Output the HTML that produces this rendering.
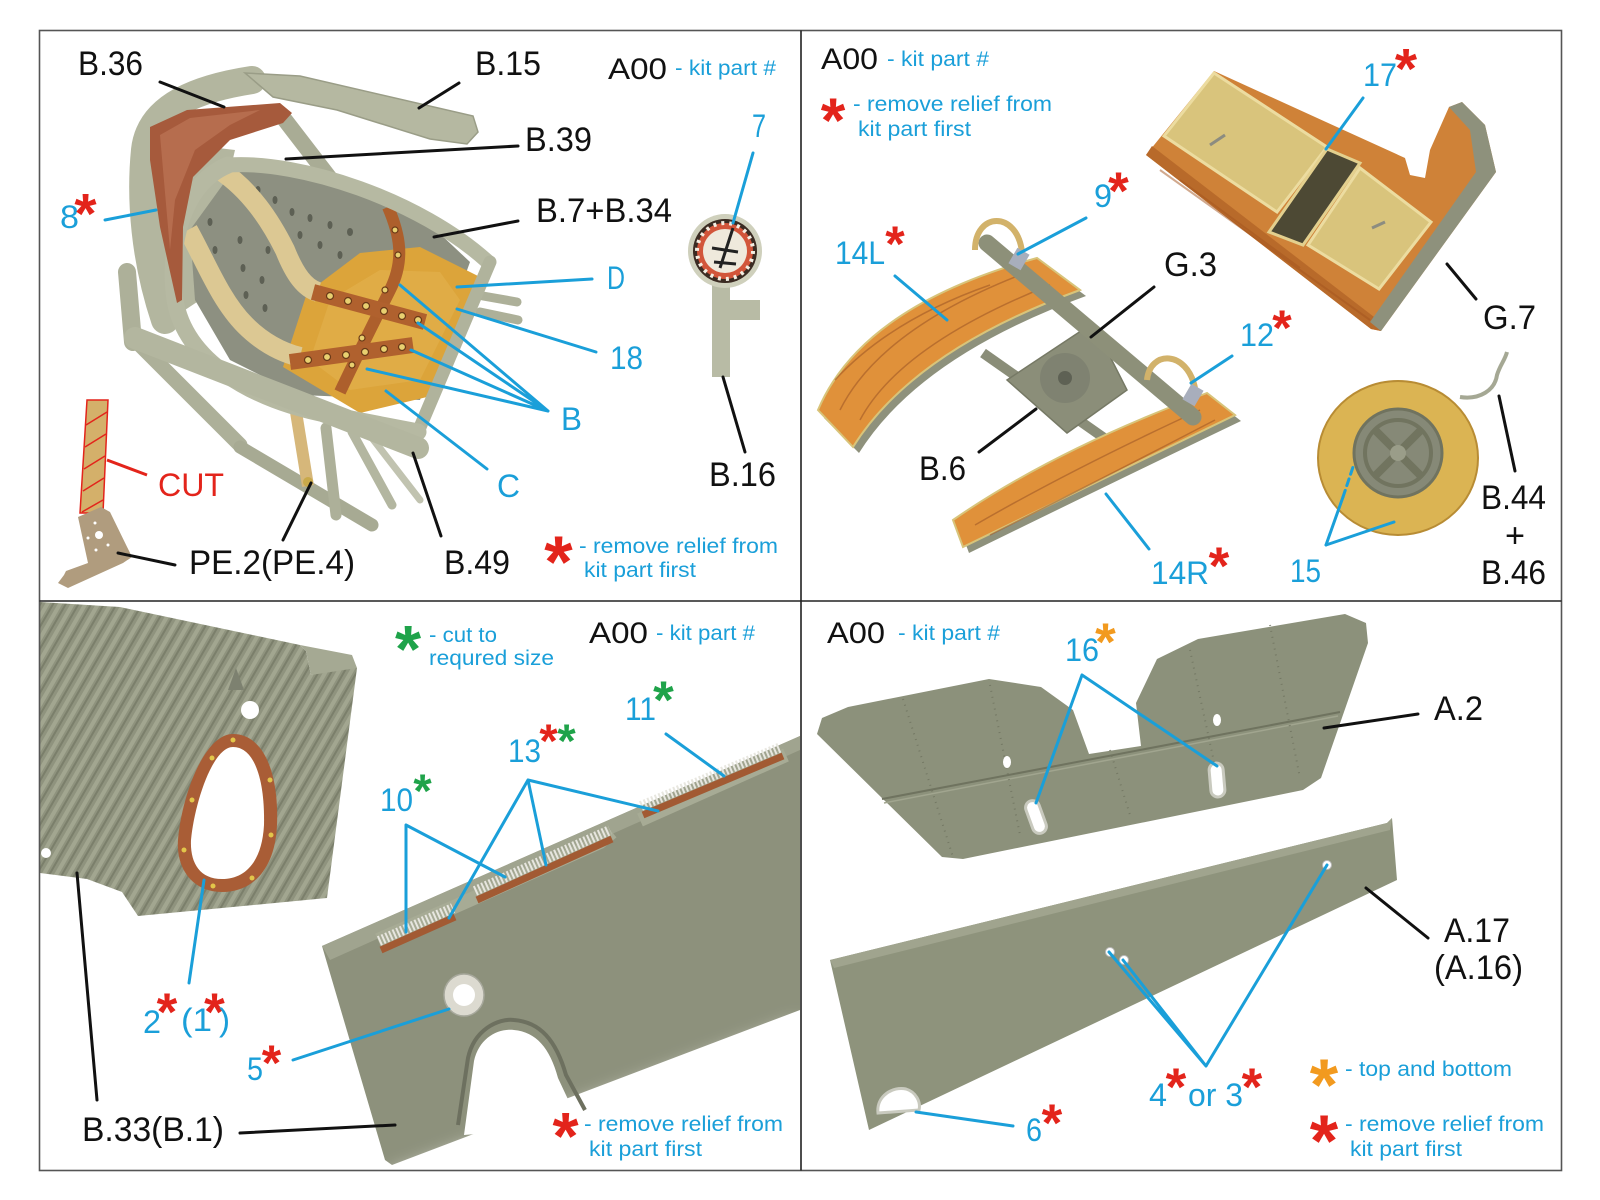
<!DOCTYPE html>
<html><head><meta charset="utf-8"><style>
html,body{margin:0;padding:0;background:#fff;}
svg{display:block;}
text{font-family:"Liberation Sans",Arial,sans-serif;}
.k{fill:#111;font-size:34px;}
.b{fill:#1a9fd9;font-size:32px;}
.s{fill:#1a9fd9;font-size:21px;}
.a{font-weight:bold;text-anchor:middle;}
.r{fill:#e3241b;}
.g{fill:#1fa34a;}
.o{fill:#f29a1f;}
.lb{stroke:#1a9fd9;stroke-width:3;fill:none;stroke-linecap:round;}
.lk{stroke:#111;stroke-width:3;fill:none;stroke-linecap:round;}
</style></head><body>
<svg width="1600" height="1200" viewBox="0 0 1600 1200" xmlns="http://www.w3.org/2000/svg">
<defs>
 <pattern id="stripes" width="11" height="11" patternUnits="userSpaceOnUse" patternTransform="rotate(30)">
  <rect width="11" height="11" fill="#8f937e"/>
  <rect width="4" height="11" fill="#a2a690"/>
  <rect x="6" width="2" height="11" fill="#7b7f6b"/>
 </pattern>
 <filter id="bl" x="-20%" y="-20%" width="140%" height="140%"><feGaussianBlur stdDeviation="9"/></filter>
</defs>
<rect width="1600" height="1200" fill="#fff"/>

<!-- ================= TOP LEFT : SEAT ================= -->
<g>
 <g stroke="#adb099" stroke-linecap="round" fill="none">
  <path d="M127,272 L133,342" stroke-width="18"/>
  <path d="M140,345 L240,445" stroke-width="15"/>
  <path d="M240,447 L372,525" stroke-width="13" stroke="#a7aa93"/>
  <path d="M326,428 L336,515" stroke-width="11"/>
  <path d="M352,432 L392,505" stroke-width="9" stroke="#b3b6a0"/>
  <path d="M372,438 L420,500" stroke-width="7" stroke="#c1c3b0"/>
  <path d="M483,296 L517,302" stroke-width="9"/>
  <path d="M480,312 L518,320" stroke-width="9"/>
  <path d="M285,120 L345,198" stroke-width="16" stroke="#a9ac95"/>
 </g>
 <path d="M296,412 L308,486" stroke="#d6b77a" stroke-width="12"/>
 <circle cx="308" cy="482" r="5" fill="#c9a94a"/>
 <polygon points="150,140 235,150 200,300 170,320 150,250" fill="#b3b69f"/>
 <path d="M252,80 C200,88 150,105 145,150 C140,200 145,260 165,320" stroke="#b3b69f" stroke-width="28" fill="none" stroke-linecap="round"/>
 <polygon points="245,73 300,76 473,116 478,132 467,144 430,139 337,110 273,97" fill="#b5b8a1" stroke="#9a9d87" stroke-width="1.5"/>
 <polygon points="232,172 300,170 370,190 420,215 470,262 420,400 300,395 230,360 195,300 190,230" fill="#8d9081"/>
 <g fill="#5d6054">
  <ellipse cx="258" cy="190" rx="2.5" ry="4"/><ellipse cx="275" cy="200" rx="2.5" ry="4"/><ellipse cx="292" cy="212" rx="2.5" ry="4"/>
  <ellipse cx="310" cy="218" rx="2.5" ry="4"/><ellipse cx="330" cy="225" rx="2.5" ry="4"/><ellipse cx="350" cy="232" rx="3" ry="4"/>
  <ellipse cx="210" cy="222" rx="2.5" ry="4"/><ellipse cx="215" cy="250" rx="2.5" ry="4"/><ellipse cx="220" cy="280" rx="2.5" ry="4"/>
  <ellipse cx="240" cy="240" rx="2.5" ry="4"/><ellipse cx="243" cy="268" rx="2.5" ry="4"/><ellipse cx="246" cy="295" rx="2.5" ry="4"/>
  <ellipse cx="262" cy="280" rx="2.5" ry="4"/><ellipse cx="265" cy="308" rx="2.5" ry="4"/><ellipse cx="268" cy="250" rx="2.5" ry="4"/>
  <ellipse cx="320" cy="245" rx="2.5" ry="4"/><ellipse cx="340" cy="255" rx="2.5" ry="4"/><ellipse cx="300" cy="235" rx="2.5" ry="4"/>
 </g>
 <polygon points="307,293 360,253 420,247 480,277 427,397 360,413 283,367" fill="#dca43a"/>
 <polygon points="330,300 380,270 440,272 460,300 420,380 350,390 310,360" fill="#e3b24e" opacity="0.6"/>
 <path d="M220,170 C250,190 270,220 285,250 C295,275 305,288 318,292" stroke="#dcc893" stroke-width="20" fill="none"/>
 <path d="M188,230 C205,260 220,300 245,325 C262,342 280,352 300,357" stroke="#dcc893" stroke-width="20" fill="none"/>
 <path d="M388,207 C400,235 405,260 390,290 C375,320 355,360 340,392" stroke="#ad5f2c" stroke-width="12" fill="none"/>
 <path d="M313,292 L425,322" stroke="#b0612e" stroke-width="16"/>
 <path d="M290,362 L413,345" stroke="#b0612e" stroke-width="16"/>
 <g fill="#e8d070" stroke="#6a3a18" stroke-width="1.2">
  <circle cx="330" cy="296" r="3.5"/><circle cx="348" cy="301" r="3.5"/><circle cx="366" cy="306" r="3.5"/><circle cx="384" cy="311" r="3.5"/><circle cx="402" cy="316" r="3.5"/><circle cx="418" cy="320" r="3.5"/>
  <circle cx="308" cy="360" r="3.5"/><circle cx="327" cy="357" r="3.5"/><circle cx="346" cy="355" r="3.5"/><circle cx="365" cy="352" r="3.5"/><circle cx="384" cy="349" r="3.5"/><circle cx="402" cy="347" r="3.5"/>
  <circle cx="395" cy="230" r="3"/><circle cx="398" cy="255" r="3"/><circle cx="385" cy="290" r="3"/><circle cx="362" cy="338" r="3"/><circle cx="352" cy="365" r="3"/>
 </g>
 <path d="M228,165 C300,160 420,200 488,262" stroke="#b6b9a2" stroke-width="15" fill="none" stroke-linecap="round"/>
 <path d="M490,262 L418,432" stroke="#b0b39c" stroke-width="13" fill="none" stroke-linecap="round"/>
 <path d="M228,165 C180,185 168,250 175,300 C185,360 250,400 330,415 L418,432" stroke="#b6b9a2" stroke-width="17" fill="none" stroke-linecap="round"/>
 <path d="M135,338 L418,448" stroke="#b3b69f" stroke-width="22" stroke-linecap="round"/>
 <path d="M150,127 L187,110 L280,103 L292,113 L283,123 L230,140 L193,177 L183,227 L182,300 L177,303 L160,227 L150,160 Z" fill="#a65a3c"/>
 <path d="M160,135 L190,118 L260,110 L230,125 L195,150 L175,200 L170,250 Z" fill="#bd7556" opacity="0.7"/>
</g>

<!-- gauge -->
<g>
 <rect x="712" y="285" width="18" height="92" fill="#b8bba5"/>
 <rect x="727" y="300" width="33" height="20" fill="#b8bba5"/>
 <circle cx="725" cy="251" r="37" fill="#cfd0bc"/>
 <circle cx="725" cy="251" r="32" fill="#3b2b22"/>
 <circle cx="725" cy="251" r="28" fill="#d2553a"/>
 <circle cx="725" cy="251" r="28" fill="none" stroke="#f3eee2" stroke-width="4" stroke-dasharray="3 5"/>
 <circle cx="725" cy="251" r="22" fill="#efe9dc"/>
 <path d="M733,228 L720,268 M712,248 L738,252 M714,262 L736,264" stroke="#222" stroke-width="3"/>
</g>

<!-- CUT strip and bracket -->
<polygon points="87,400 108,400 103,513 80,513" fill="#d4b06a" stroke="#e3241b" stroke-width="1.5"/>
<g stroke="#e3241b" stroke-width="1.5">
 <path d="M86,425 L107,412"/><path d="M85,447 L106,434"/><path d="M84,469 L105,456"/><path d="M83,491 L104,478"/><path d="M82,512 L103,500"/>
</g>
<polygon points="78,517 101,507 110,512 132,557 123,563 68,588 58,583 64,575 66,571 88,563" fill="#b09c7e"/>
<g fill="#fff"><circle cx="99" cy="535" r="4"/><circle cx="95" cy="523" r="1.5"/><circle cx="88" cy="538" r="1.5"/><circle cx="108" cy="545" r="1.5"/><circle cx="96" cy="550" r="1.5"/></g>

<!-- ================= TOP RIGHT ================= -->
<polygon points="1214,71 1405,158 1410,175 1425,178 1430,150 1449,107 1462,102 1485,125 1496,172 1381,331 1371,329 1146,155" fill="#cf8238"/>
<polygon points="1146,155 1371,329 1381,331 1378,320 1152,146" fill="#b86a2a"/>
<polygon points="1449,107 1462,102 1485,125 1496,172 1381,331 1370,322 1476,172 1470,130" fill="#8e917c"/>
<polygon points="1214,73 1327,147 1277,212 1164,136" fill="#d9c47c" stroke="#ecdca0" stroke-width="3"/>
<polygon points="1327,149 1360,163 1303,245 1269,232" fill="#4d4934" stroke="#e3d08e" stroke-width="3"/>
<polygon points="1360,168 1431,222 1379,289 1308,245" fill="#d9c47c" stroke="#ecdca0" stroke-width="3"/>
<path d="M1210,145 L1225,135 M1372,228 L1385,222" stroke="#8c8c80" stroke-width="3"/>
<path d="M1160,170 L1370,320 M1180,180 L1300,268" stroke="#a5561f" stroke-width="2" opacity="0.5"/>

<path d="M824,418 Q868,312 1043,264 L1086,296 Q919,357 859,453 Z" fill="#8e917c"/>
<path d="M818,410 Q862,306 1037,258 L1080,290 Q913,351 853,447 Z" fill="#e0913a" stroke="#d8c47a" stroke-width="2"/>
<path d="M840,410 Q880,330 1020,275 M860,420 Q900,345 1050,285 M835,380 Q890,320 990,285" stroke="#9a5424" stroke-width="1.5" fill="none" opacity="0.55"/>
<path d="M983,353 L1107,440" stroke="#8a8d78" stroke-width="10"/>
<path d="M959,526 Q1060,456 1213,399 L1241,421 Q1116,481 969,553 Z" fill="#8e917c"/>
<path d="M953,520 Q1054,450 1207,393 L1235,415 Q1110,475 963,547 Z" fill="#e0913a" stroke="#d8c47a" stroke-width="2"/>
<path d="M975,525 Q1070,470 1200,410 M990,535 Q1090,485 1215,420" stroke="#9a5424" stroke-width="1.5" fill="none" opacity="0.55"/>
<polygon points="1007,380 1093,323 1127,390 1067,433" fill="#8b8e79" stroke="#767965" stroke-width="1.5"/>
<circle cx="1065" cy="378" r="25" fill="#7f8271"/>
<circle cx="1065" cy="378" r="7" fill="#5e6154"/>
<path d="M987,243 L1193,417" stroke="#8d9079" stroke-width="17" stroke-linecap="round"/>
<path d="M975,250 C975,212 1017,210 1022,252" stroke="#d2b26a" stroke-width="6" fill="none"/>
<path d="M1147,380 C1150,350 1187,350 1195,388" stroke="#d2b26a" stroke-width="6" fill="none"/>
<rect x="1012" y="250" width="14" height="18" fill="#a8aebc" transform="rotate(30 1019 259)"/>
<rect x="1186" y="386" width="14" height="18" fill="#a8aebc" transform="rotate(30 1193 395)"/>

<path d="M1460,397 C1480,400 1495,390 1497,375 C1500,365 1505,360 1507,352" stroke="#a5a894" stroke-width="4" fill="none"/>
<ellipse cx="1398" cy="458" rx="80" ry="77" fill="#dbb453"/>
<ellipse cx="1398" cy="458" rx="80" ry="77" fill="none" stroke="#b88c34" stroke-width="2"/>
<circle cx="1398" cy="453" r="44" fill="#868977" stroke="#70735f" stroke-width="3"/>
<circle cx="1398" cy="453" r="33" fill="none" stroke="#71745f" stroke-width="4"/>
<path d="M1375,430 L1421,476 M1421,430 L1375,476" stroke="#71745f" stroke-width="8"/>
<circle cx="1398" cy="453" r="8" fill="#9a9d89"/>

<!-- ================= BOTTOM LEFT ================= -->
<polygon points="40,602 120,607 300,645 306,651 311,675 352,665 357,668 327,898 138,916 122,892 87,879 40,873" fill="url(#stripes)"/>
<polygon points="300,645 352,655 357,668 311,675 306,651" fill="#a5a993"/>
<path d="M233,734 C262,734 279,770 277,825 C275,870 252,892 222,892 C192,892 176,868 178,840 C181,800 203,734 233,734 Z" fill="#a95d36"/>
<path d="M233,747 C253,747 265,776 264,825 C262,862 245,879 222,879 C199,879 190,862 191,840 C194,806 212,747 233,747 Z" fill="#fff"/>
<g fill="#e2c64a"><circle cx="233" cy="740" r="2.5"/><circle cx="270" cy="780" r="2.5"/><circle cx="271" cy="835" r="2.5"/><circle cx="252" cy="878" r="2.5"/><circle cx="213" cy="886" r="2.5"/><circle cx="184" cy="850" r="2.5"/><circle cx="192" cy="800" r="2.5"/><circle cx="212" cy="758" r="2.5"/></g>
<polygon points="228,690 236,668 244,690" fill="#7d8170"/>
<circle cx="250" cy="710" r="9" fill="#fff"/>
<circle cx="46" cy="853" r="5" fill="#fff"/>

<polygon points="322,946 800,736 800,1010 392,1165 385,1160" fill="#8d917c"/>
<polygon points="322,946 800,736 800,750 330,960" fill="#a0a48f"/>
<polygon points="392,1175 800,1022 800,1200 380,1200" fill="#fff" filter="url(#bl)"/>
<path d="M458,1125 L468,1058 C474,1030 498,1018 514,1020 C540,1022 556,1040 566,1075 L585,1110" stroke="#6d705f" stroke-width="4" fill="none"/>
<path d="M464,1135 L474,1061 C479,1038 498,1028 514,1030 C536,1032 550,1048 558,1078 L580,1125 Z" fill="#fff"/>
<ellipse cx="464" cy="995" rx="20" ry="21" fill="#dcdad0" stroke="#a7a89c" stroke-width="1.5"/>
<circle cx="464" cy="995" r="11" fill="#fff"/>
<g>
 <path d="M378,940 L456,906 L600,842 L612,832 M640,820 L786,755" stroke="#a7ab95" stroke-width="14"/>
 <path d="M381,950 L455,917" stroke="#a25a33" stroke-width="7"/>
 <path d="M379,941 L453,908" stroke="#e7e6df" stroke-width="10" stroke-dasharray="2 2"/>
 <path d="M477,900 L612,839" stroke="#a25a33" stroke-width="7"/>
 <path d="M475,891 L610,830" stroke="#e7e6df" stroke-width="10" stroke-dasharray="2 2"/>
 <path d="M643,815 L783,756" stroke="#a25a33" stroke-width="7"/>
 <path d="M641,806 L781,747" stroke="#e7e6df" stroke-width="10" stroke-dasharray="2 2"/>
</g>

<!-- ================= BOTTOM RIGHT ================= -->
<polygon points="817,734 822,718 848,707 989,679 1041,687 1073,710 1089,754 1141,746 1136,703 1157,659 1198,639 1345,614 1366,623 1368,643 1321,778 1303,790 963,859 942,857 885,801" fill="#8c917b"/>
<path d="M882,799 L1340,712" stroke="#6f735f" stroke-width="2"/>
<path d="M884,803 L1338,716" stroke="#a1a58f" stroke-width="1.5"/>
<g stroke="#6f735f" stroke-width="2" stroke-dasharray="1 5" opacity="0.8">
 <path d="M903,699 L953,857"/><path d="M990,685 L1020,835"/><path d="M1110,750 L1130,815"/><path d="M1190,650 L1220,790"/><path d="M1270,625 L1300,778"/>
</g>
<ellipse cx="1007" cy="762" rx="4" ry="6" fill="#fff"/>
<ellipse cx="1217" cy="720" rx="4" ry="6" fill="#fff"/>
<rect x="1029" y="800" width="14" height="34" rx="7" fill="#fff" stroke="#c9cabf" stroke-width="3" transform="rotate(-20 1036 817)"/>
<rect x="1210" y="763" width="14" height="34" rx="7" fill="#fff" stroke="#c9cabf" stroke-width="3" transform="rotate(-5 1217 780)"/>
<polygon points="830,960 1387,823 1392,818 1397,880 869,1130" fill="#8e937c"/>
<polygon points="830,960 1387,823 1392,818 1390,830 834,968" fill="#a0a48e"/>
<circle cx="1110" cy="952" r="4.5" fill="#fff" stroke="#bbb" stroke-width="1"/>
<circle cx="1124" cy="960" r="4.5" fill="#fff" stroke="#bbb" stroke-width="1"/>
<circle cx="1327" cy="865" r="4.5" fill="#fff" stroke="#bbb" stroke-width="1"/>
<path d="M878,1113 C876,1096 893,1086 906,1089 C916,1092 921,1102 919,1110 Z" fill="#fff" stroke="#c9cabf" stroke-width="3"/>

<!-- ================= LEADER LINES ================= -->
<g class="lk">
 <path d="M160,82 L224,107"/><path d="M459,83 L419,108"/><path d="M518,146 L286,159"/><path d="M518,221 L434,237"/>
 <path d="M441,536 L413,453"/><path d="M283,540 L311,483"/><path d="M175,565 L118,553"/><path d="M745,452 L723,377"/>
 <path d="M1154,287 L1091,337"/><path d="M979,452 L1036,409"/><path d="M1476,299 L1447,264"/><path d="M1515,471 L1499,396"/>
 <path d="M97,1100 L77,873"/><path d="M240,1133 L395,1125"/>
 <path d="M1418,714 L1324,728"/><path d="M1428,938 L1366,888"/>
</g>
<path d="M147,475 L107,460" stroke="#e3241b" stroke-width="3"/>
<g class="lb">
 <path d="M105,220 L156,210"/><path d="M753,153 L733,223"/><path d="M592,279 L457,287"/><path d="M596,352 L457,309"/>
 <path d="M548,411 L400,285 M548,411 L418,323 M548,411 L411,350 M548,411 L367,369"/>
 <path d="M487,469 L386,391"/>
 <path d="M1363,98 L1326,149"/><path d="M1086,218 L1018,254"/><path d="M895,276 L947,320"/><path d="M1232,356 L1191,383"/>
 <path d="M1149,549 L1106,494"/><path d="M1326,545 L1343,497"/><path d="M1343,497 L1353,467" stroke-dasharray="7 5"/><path d="M1326,545 L1394,522"/>
 <path d="M189,983 L204,880"/><path d="M293,1060 L449,1009"/>
 <path d="M406,825 L406,932 M406,825 L505,877"/>
 <path d="M528,780 L449,918 M528,780 L546,865 M528,780 L658,811"/>
 <path d="M666,734 L724,776"/>
 <path d="M1082,675 L1036,803 M1082,675 L1217,766"/>
 <path d="M1206,1066 L1109,952 M1206,1066 L1123,960 M1206,1066 L1327,865"/>
 <path d="M1013,1126 L916,1112"/>
</g>

<!-- ================= TEXT ================= -->
<text class="k" x="78" y="75" textLength="65" lengthAdjust="spacingAndGlyphs">B.36</text>
<text class="k" x="475" y="75" textLength="66" lengthAdjust="spacingAndGlyphs">B.15</text>
<text class="k" x="608" y="79" textLength="59" lengthAdjust="spacingAndGlyphs" style="font-size:30px">A00</text>
<text class="s" x="675" y="75" textLength="101" lengthAdjust="spacingAndGlyphs">- kit part #</text>
<text class="k" x="525" y="151" textLength="67" lengthAdjust="spacingAndGlyphs">B.39</text>
<text class="k" x="536" y="222" textLength="136" lengthAdjust="spacingAndGlyphs">B.7+B.34</text>
<text class="b" x="752" y="137" textLength="14" lengthAdjust="spacingAndGlyphs">7</text>
<text class="b" x="60" y="228" textLength="19" lengthAdjust="spacingAndGlyphs">8</text>
<text class="a r" x="85.5" y="233" style="font-size:57px">*</text>
<text class="b" x="607" y="289" textLength="18" lengthAdjust="spacingAndGlyphs">D</text>
<text class="b" x="610" y="369" textLength="33" lengthAdjust="spacingAndGlyphs">18</text>
<text class="b" x="561" y="430" textLength="21" lengthAdjust="spacingAndGlyphs">B</text>
<text class="b" x="497" y="497" textLength="23" lengthAdjust="spacingAndGlyphs">C</text>
<text class="b" x="158" y="496" textLength="66" lengthAdjust="spacingAndGlyphs" style="fill:#e3241b">CUT</text>
<text class="k" x="709" y="486" textLength="67" lengthAdjust="spacingAndGlyphs">B.16</text>
<text class="k" x="444" y="574" textLength="66" lengthAdjust="spacingAndGlyphs">B.49</text>
<text class="k" x="189" y="574" textLength="166" lengthAdjust="spacingAndGlyphs">PE.2(PE.4)</text>
<text class="a r" x="558.5" y="587" style="font-size:73px">*</text>
<text class="s" x="579" y="553" textLength="199" lengthAdjust="spacingAndGlyphs">- remove relief from</text>
<text class="s" x="584" y="577" textLength="112" lengthAdjust="spacingAndGlyphs">kit part first</text>

<text class="k" x="821" y="69" textLength="57" lengthAdjust="spacingAndGlyphs" style="font-size:30px">A00</text>
<text class="s" x="887" y="66" textLength="102" lengthAdjust="spacingAndGlyphs">- kit part #</text>
<text class="a r" x="833" y="142" style="font-size:63px">*</text>
<text class="s" x="853" y="111" textLength="199" lengthAdjust="spacingAndGlyphs">- remove relief from</text>
<text class="s" x="858" y="136" textLength="113" lengthAdjust="spacingAndGlyphs">kit part first</text>
<text class="b" x="1363" y="86" textLength="34" lengthAdjust="spacingAndGlyphs">17</text>
<text class="a r" x="1406" y="88" style="font-size:57px">*</text>
<text class="b" x="1094" y="207" textLength="18" lengthAdjust="spacingAndGlyphs">9</text>
<text class="a r" x="1118.5" y="209" style="font-size:53px">*</text>
<text class="b" x="835" y="264" textLength="50" lengthAdjust="spacingAndGlyphs">14L</text>
<text class="a r" x="895" y="261" style="font-size:50px">*</text>
<text class="k" x="1164" y="276" textLength="53" lengthAdjust="spacingAndGlyphs">G.3</text>
<text class="k" x="1483" y="329" textLength="53" lengthAdjust="spacingAndGlyphs">G.7</text>
<text class="b" x="1240" y="346" textLength="34" lengthAdjust="spacingAndGlyphs">12</text>
<text class="a r" x="1282" y="345" style="font-size:50px">*</text>
<text class="k" x="919" y="480" textLength="47" lengthAdjust="spacingAndGlyphs">B.6</text>
<text class="b" x="1151" y="584" textLength="58" lengthAdjust="spacingAndGlyphs">14R</text>
<text class="a r" x="1219" y="584" style="font-size:53px">*</text>
<text class="b" x="1290" y="582" textLength="31" lengthAdjust="spacingAndGlyphs">15</text>
<text class="k" x="1481" y="509" textLength="65" lengthAdjust="spacingAndGlyphs">B.44</text>
<text class="k" x="1505" y="547" textLength="20" lengthAdjust="spacingAndGlyphs">+</text>
<text class="k" x="1481" y="584" textLength="65" lengthAdjust="spacingAndGlyphs">B.46</text>

<text class="a g" x="408" y="672" style="font-size:67px">*</text>
<text class="s" x="429" y="642" textLength="68" lengthAdjust="spacingAndGlyphs">- cut to</text>
<text class="s" x="429" y="665" textLength="125" lengthAdjust="spacingAndGlyphs">requred size</text>
<text class="k" x="589" y="643" textLength="59" lengthAdjust="spacingAndGlyphs" style="font-size:30px">A00</text>
<text class="s" x="656" y="640" textLength="99" lengthAdjust="spacingAndGlyphs">- kit part #</text>
<text class="b" x="625" y="720" textLength="31" lengthAdjust="spacingAndGlyphs">11</text>
<text class="a g" x="663.5" y="718" style="font-size:53px">*</text>
<text class="b" x="508" y="762" textLength="33" lengthAdjust="spacingAndGlyphs">13</text>
<text class="a r" x="548.5" y="757" style="font-size:47px">*</text>
<text class="a g" x="566.5" y="757" style="font-size:47px">*</text>
<text class="b" x="380" y="811" textLength="33" lengthAdjust="spacingAndGlyphs">10</text>
<text class="a g" x="422.5" y="807" style="font-size:47px">*</text>
<text class="b" x="143" y="1033" textLength="18" lengthAdjust="spacingAndGlyphs">2</text>
<text class="a r" x="167" y="1030" style="font-size:53px">*</text>
<text class="b" x="181" y="1031" textLength="31" lengthAdjust="spacingAndGlyphs">(1</text>
<text class="a r" x="214.5" y="1030" style="font-size:53px">*</text>
<text class="b" x="219" y="1031" textLength="11" lengthAdjust="spacingAndGlyphs">)</text>
<text class="b" x="247" y="1080" textLength="16" lengthAdjust="spacingAndGlyphs">5</text>
<text class="a r" x="271.5" y="1080" style="font-size:50px">*</text>
<text class="k" x="82" y="1141" textLength="142" lengthAdjust="spacingAndGlyphs">B.33(B.1)</text>
<text class="a r" x="565.5" y="1159" style="font-size:67px">*</text>
<text class="s" x="584" y="1131" textLength="199" lengthAdjust="spacingAndGlyphs">- remove relief from</text>
<text class="s" x="589" y="1156" textLength="113" lengthAdjust="spacingAndGlyphs">kit part first</text>

<text class="k" x="827" y="643" textLength="58" lengthAdjust="spacingAndGlyphs" style="font-size:30px">A00</text>
<text class="s" x="898" y="640" textLength="102" lengthAdjust="spacingAndGlyphs">- kit part #</text>
<text class="b" x="1065" y="661" textLength="34" lengthAdjust="spacingAndGlyphs">16</text>
<text class="a o" x="1105.5" y="660" style="font-size:53px">*</text>
<text class="k" x="1434" y="720" textLength="49" lengthAdjust="spacingAndGlyphs">A.2</text>
<text class="k" x="1444" y="942" textLength="66" lengthAdjust="spacingAndGlyphs">A.17</text>
<text class="k" x="1434" y="979" textLength="89" lengthAdjust="spacingAndGlyphs">(A.16)</text>
<text class="b" x="1149" y="1106" textLength="18" lengthAdjust="spacingAndGlyphs">4</text>
<text class="a r" x="1176" y="1105" style="font-size:53px">*</text>
<text class="b" x="1188" y="1106" textLength="55" lengthAdjust="spacingAndGlyphs">or 3</text>
<text class="a r" x="1252" y="1105" style="font-size:53px">*</text>
<text class="b" x="1026" y="1141" textLength="16" lengthAdjust="spacingAndGlyphs">6</text>
<text class="a r" x="1052" y="1141" style="font-size:53px">*</text>
<text class="a o" x="1324" y="1110" style="font-size:73px">*</text>
<text class="s" x="1345" y="1076" textLength="167" lengthAdjust="spacingAndGlyphs">- top and bottom</text>
<text class="a r" x="1324" y="1166" style="font-size:73px">*</text>
<text class="s" x="1345" y="1131" textLength="199" lengthAdjust="spacingAndGlyphs">- remove relief from</text>
<text class="s" x="1350" y="1156" textLength="112" lengthAdjust="spacingAndGlyphs">kit part first</text>

<rect x="39.5" y="30.5" width="1522" height="1140" fill="none" stroke="#555" stroke-width="1.6"/>
<path d="M801,30.5 V1170.5 M39.5,601 H1561.5" stroke="#222" stroke-width="1.6"/>
</svg>
</body></html>
